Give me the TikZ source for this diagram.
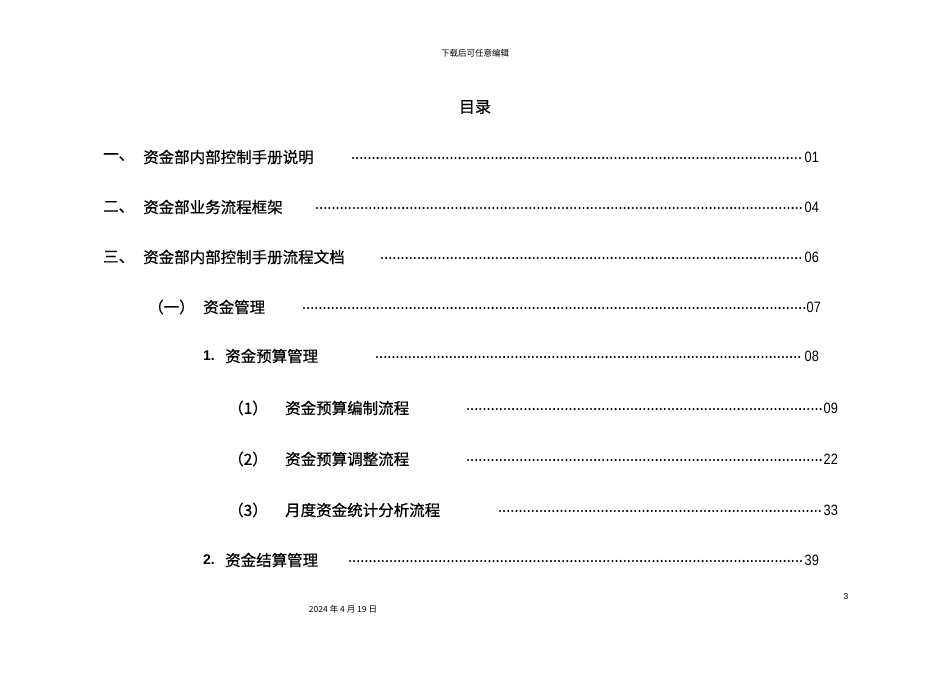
\documentclass[tikz,border=0pt]{standalone}
\usepackage{fontspec}
\usetikzlibrary{calc}
\setmainfont{Liberation Sans}
\newfontfamily\cjk[FakeBold=0.6]{Noto Sans CJK SC}
\newfontfamily\cjkr{Noto Sans CJK SC}
\begin{document}
\begin{tikzpicture}[x=1pt,y=-1pt,
  txt/.style={anchor=west,inner sep=0pt,font=\cjk\fontsize{15.5}{16}\selectfont},
  num/.style={anchor=west,inner sep=0pt,font=\fontsize{15}{16}\selectfont,xscale=0.85,transform shape}]
\useasboundingbox (0,0) rectangle (950,672);
\fill[white] (0,0) rectangle (950,672);
\node[inner sep=0pt,font=\cjkr\fontsize{8.5}{9}\selectfont] (hd) at (475,53) {下载后可任意编辑};
\node[inner sep=0pt,font=\cjk\fontsize{16}{17}\selectfont] (title) at (475,107) {目录};
\foreach \y/\lx/\lab/\tx/\t/\ds/\de/\n [count=\i] in {
 157/103/一、/143/资金部内部控制手册说明/353/803/01,
 207/103/二、/143/资金部业务流程框架/317/803/04,
 257/103/三、/143/资金部内部控制手册流程文档/382/803/06,
 307/148/（一）/203/资金管理/304/805/07,
 356/203//225/资金预算管理/377/803/08,
 408/228/（1）/285/资金预算编制流程/468/822/09,
 459/228/（2）/285/资金预算调整流程/468/822/22,
 510/228/（3）/285/月度资金统计分析流程/500/822/33,
 560/203//225/资金结算管理/350/803/39}{
  \node[txt] (l\i) at (\lx,\y) {\lab};
  \node[txt] (t\i) at (\tx,\y) {\t};
  \coordinate (a\i) at (\ds,\y+1);
  \coordinate (b\i) at (\de,\y+1);
  \pgfmathtruncatemacro{\nd}{(\de-\ds)/4.1}
  \foreach \k in {0,...,\nd} \fill ($(a\i)+(\k*4.1,0)$) circle (1.15);
  \node[num] (n\i) at (\de+1.5,\y) {\n};
}
\node[anchor=west,inner sep=0pt,font=\bfseries\fontsize{14}{15}\selectfont] (k1) at (203,356) {1.};
\node[anchor=west,inner sep=0pt,font=\bfseries\fontsize{14}{15}\selectfont] (k2) at (203,560) {2.};
\node[inner sep=0pt,font=\fontsize{8.5}{9}\selectfont] (pg) at (846,597) {3};
\node[inner sep=0pt,font=\cjkr\fontsize{8.5}{9}\selectfont] (dt) at (343,609) {2024 年 4 月 19 日};
\end{tikzpicture}
\end{document}
